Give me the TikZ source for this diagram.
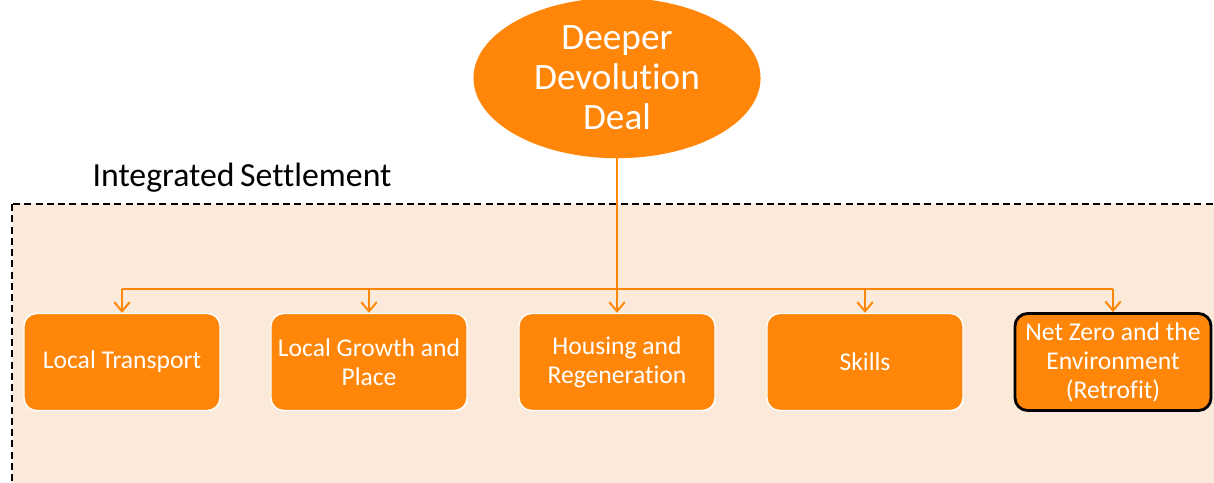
\documentclass[tikz,border=0pt]{standalone}
\usepackage{fontspec}
\setmainfont{Carlito}[RawFeature={-liga;-clig;-calt;-dlig}]
\usetikzlibrary{arrows.meta,shapes.geometric}
\definecolor{devorange}{RGB}{255,134,8}
\definecolor{devpeach}{RGB}{251,233,217}
\tikzset{
  topic/.style={rectangle,rounded corners=9pt,fill=devorange,draw=white,line width=1pt,
    minimum width=4.9cm,minimum height=2.425cm,text=white,align=center,
    font=\fontsize{18.2}{20.6}\selectfont},
  link/.style={devorange,line width=1.4pt},
  linkarrow/.style={link,-{Straight Barb[length=6.5pt,width=11pt]}}
}
\begin{document}
\begin{tikzpicture}[x=0.025cm,y=-0.025cm]
                \useasboundingbox (0,0) rectangle (1214,482);
                \clip (0,0) rectangle (1214,482);
                \filldraw[fill=devpeach,dash pattern=on 5pt off 3pt,line width=1pt] (12,204) rectangle (1240,510);
                \node (settlement) at (242,178) {\fontsize{24}{28}\selectfont Integrated\,Settlement};

                \node[ellipse,fill=devorange,minimum width=7.175cm,minimum height=3.6cm,text=white,align=center,
                      font=\fontsize{26.5}{28.4}\selectfont] (deal) at (617,78) {Deeper\\Devolution\\Deal};

                \node[topic] (transport) at (122,362) {Local Transport};
                \node[topic] (growth) at (369,362) {Local Growth and\\Place};
                \node[topic] (housing) at (617,362) {Housing and\\Regeneration};
                \node[topic] (skills) at (865,362) {Skills};
                \node[topic,draw=black,line width=2pt] (retrofit) at (1113,362) {Net Zero and the\\Environment\\(Retrofit)};

                \coordinate (bus) at (617,289);
                \draw[linkarrow] (deal.south) -- (housing.north);
                \draw[link] (bus -| transport) -- (bus -| retrofit);
                \draw[linkarrow] (bus -| transport) -- (transport.north);
                \draw[linkarrow] (bus -| growth) -- (growth.north);
                \draw[linkarrow] (bus -| skills) -- (skills.north);
                \draw[linkarrow] (bus -| retrofit) -- (retrofit.north);
            \end{tikzpicture}
\end{document}
